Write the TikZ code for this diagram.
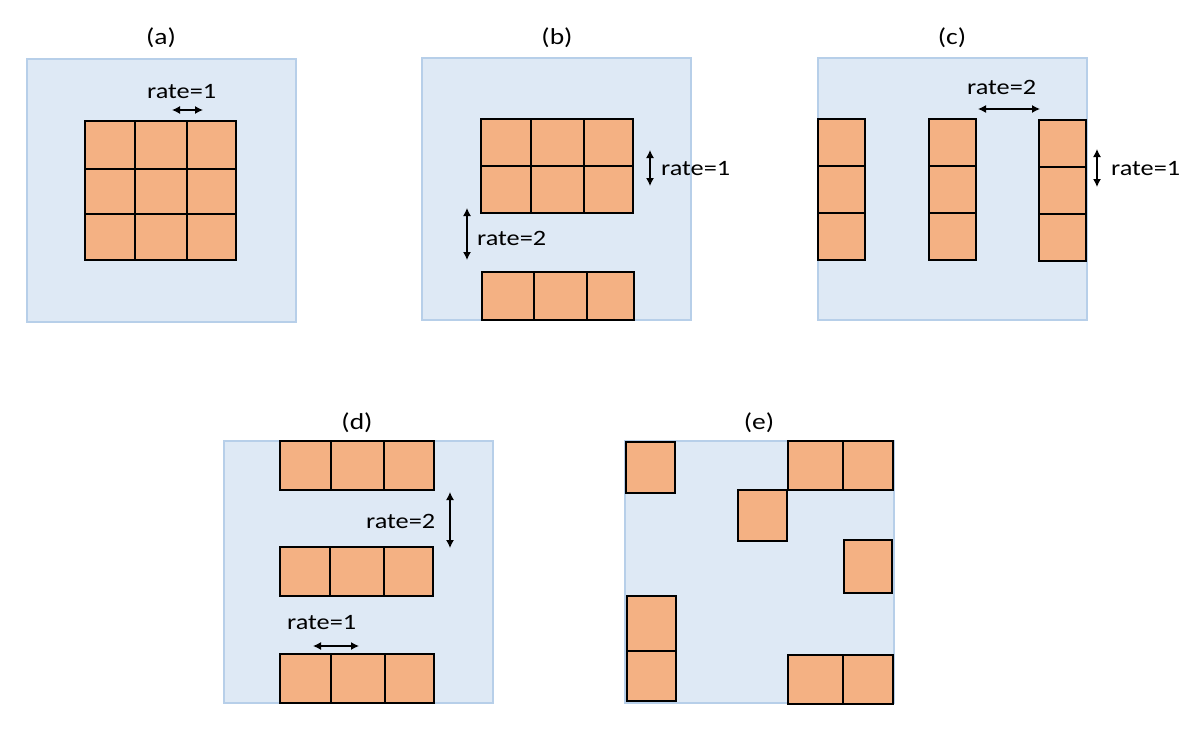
\documentclass[tikz,border=0pt]{standalone}
\usepackage{fontspec}
\usepackage{graphicx}
\setmainfont{Carlito}
\usetikzlibrary{arrows.meta}
\definecolor{bgblue}{HTML}{DEE9F5}
\definecolor{bgedge}{HTML}{B7CFE9}
\definecolor{cellfill}{HTML}{F4B183}
\tikzset{
  panel/.style={fill=bgblue, draw=bgedge, line width=1.5bp},
  cell/.style={fill=cellfill, draw=black, line width=2bp},
  lbl/.style={inner sep=0pt, font=\fontsize{23}{27}\selectfont},
  ratelbl/.style={inner sep=0pt, anchor=base west, font=\fontsize{22}{26}\selectfont},
  dim/.style={line width=1.3bp, {Latex[length=8bp,width=8bp]}-{Latex[length=8bp,width=8bp]}}
}
\newcommand\wide[1]{\scalebox{1.2}[1]{#1}}
\begin{document}
\begin{tikzpicture}[x=1bp,y=-1bp]
\useasboundingbox (0,0) rectangle (1196,740);
% panels
\draw[panel] (27,59) rectangle (296,322);
\draw[panel] (422,58) rectangle (691,320);
\draw[panel] (818,58) rectangle (1087,320);
\draw[panel] (224,441) rectangle (493,703);
\draw[panel] (625,441) rectangle (894,703);
% panel titles
\node[lbl, anchor=base] (ta) at (161,45) {\wide{(a)}};
\node[lbl, anchor=base] (tb) at (557,45) {\wide{(b)}};
\node[lbl, anchor=base] (tc) at (952,45) {\wide{(c)}};
\node[lbl, anchor=base] (td) at (357,429) {\wide{(d)}};
\node[lbl, anchor=base] (te) at (759,429) {\wide{(e)}};
% (a)
\foreach \xa/\xb in {85/135,135/187,187/236}
  \foreach \ya/\yb in {121/169,169/214,214/260}
    \draw[cell] (\xa,\ya) rectangle (\xb,\yb);
\node[ratelbl] (ra) at (147,99) {\wide{rate=1}};
\coordinate (a1) at (172,110); \coordinate (a2) at (203,110);
\draw[dim] (a1) -- (a2);
% (b)
\foreach \xa/\xb in {481/531,531/584,584/633}
  \foreach \ya/\yb in {119/166,166/213}
    \draw[cell] (\xa,\ya) rectangle (\xb,\yb);
\foreach \xa/\xb in {482/534,534/587,587/634}
  \draw[cell] (\xa,272) rectangle (\xb,320);
\node[ratelbl] (rb1) at (661,175) {\wide{rate=1}};
\node[ratelbl] (rb2) at (477,245) {\wide{rate=2}};
\coordinate (b1) at (650,150); \coordinate (b2) at (650,186);
\coordinate (b3) at (467,208); \coordinate (b4) at (467,260);
\draw[dim] (b1) -- (b2);
\draw[dim] (b3) -- (b4);
% (c)
\foreach \xa/\xb in {818/865,929/976}
  \foreach \ya/\yb in {119/166,166/213,213/260}
    \draw[cell] (\xa,\ya) rectangle (\xb,\yb);
\foreach \ya/\yb in {120/167,167/214,214/261}
  \draw[cell] (1039,\ya) rectangle (1086,\yb);
\node[ratelbl] (rc2) at (967,95) {\wide{rate=2}};
\node[ratelbl] (rc1) at (1111,175) {\wide{rate=1}};
\coordinate (c1) at (978,109); \coordinate (c2) at (1040,109);
\coordinate (c3) at (1097,149); \coordinate (c4) at (1097,187);
\draw[dim] (c1) -- (c2);
\draw[dim] (c3) -- (c4);
% (d)
\foreach \xa/\xb in {280/331,331/384,384/434}
  \draw[cell] (\xa,441) rectangle (\xb,490);
\foreach \xa/\xb in {280/330,330/384,384/433}
  \draw[cell] (\xa,547) rectangle (\xb,596);
\foreach \xa/\xb in {280/331,331/385,385/434}
  \draw[cell] (\xa,654) rectangle (\xb,703);
\node[ratelbl] (rd2) at (366,528) {\wide{rate=2}};
\node[ratelbl] (rd1) at (287,629) {\wide{rate=1}};
\coordinate (d1) at (450,492); \coordinate (d2) at (450,548);
\coordinate (d3) at (313,646); \coordinate (d4) at (359,646);
\draw[dim] (d1) -- (d2);
\draw[dim] (d3) -- (d4);
% (e)
\draw[cell] (626,442) rectangle (675,493);
\draw[cell] (788,441) rectangle (843,490);
\draw[cell] (843,441) rectangle (893,490);
\draw[cell] (738,490) rectangle (787,541);
\draw[cell] (844,540) rectangle (892,593);
\draw[cell] (627,596) rectangle (676,651);
\draw[cell] (627,651) rectangle (676,701);
\draw[cell] (788,655) rectangle (843,704);
\draw[cell] (843,655) rectangle (893,704);
\end{tikzpicture}
\end{document}
